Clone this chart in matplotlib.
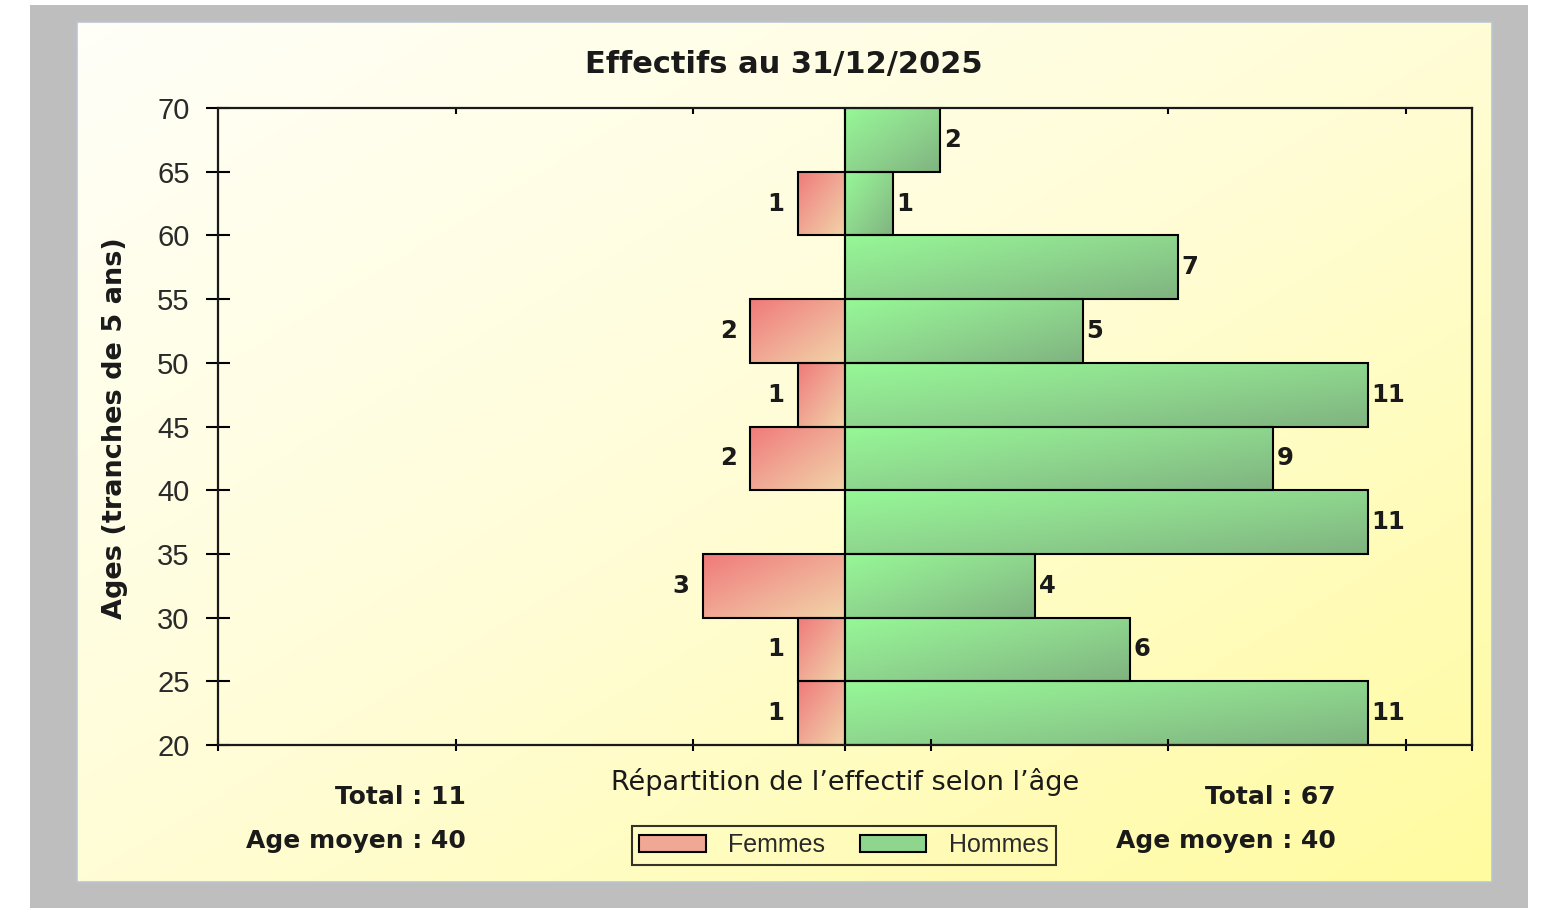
import matplotlib
matplotlib.use('Agg')

import numpy as np
import matplotlib.pyplot as plt
from matplotlib.patches import Rectangle, Patch
from matplotlib.colors import LinearSegmentedColormap

# tranches d'age (borne basse) et effectifs
ages = [20, 25, 30, 35, 40, 45, 50, 55, 60, 65]
femmes = [1, 1, 3, 0, 2, 1, 2, 0, 1, 0]
hommes = [11, 6, 4, 11, 9, 11, 5, 7, 1, 2]
yticks = [20, 25, 30, 35, 40, 45, 50, 55, 60, 65, 70]
xticks = [-13.2, -8.2, -3.2, 0, 1.8, 6.8, 11.8, 13.2]

titre = "Effectifs au 31/12/2025"
xlabel = "Répartition de l\u2019effectif selon l\u2019âge"
ylabel = "Ages (tranches de 5 ans)"
total_f, moyen_f = 11, 40
total_h, moyen_h = 67, 40

W, H = 1545, 908
fig = plt.figure(figsize=(W / 100, H / 100), dpi=100)
fig.patch.set_facecolor('white')

# fond : cadre gris + panneau degrade (coordonnees pixel)
bg = fig.add_axes([0, 0, 1, 1], zorder=-1)
bg.axis('off')
bg.add_patch(Rectangle((30, 5), 1498, 910, facecolor='#BEBEBE', edgecolor='none', zorder=0))
n = 200
grad = np.add.outer(np.linspace(0, 1, n), np.linspace(0, 1, n)) / 2
cm_bg = LinearSegmentedColormap.from_list('bg', ['#FFFFF8', '#FFFDD6', '#FFFBA0'])
bg.imshow(grad, extent=[77, 1492, 882, 22], cmap=cm_bg, aspect='auto',
          interpolation='bilinear', zorder=1)
bg.add_patch(Rectangle((77, 22), 1415, 860, facecolor='none', edgecolor='#B9C6D6',
                       lw=1.2, zorder=2))
bg.set_xlim(0, W)
bg.set_ylim(H, 0)

ax = fig.add_axes([218 / W, 1 - 745 / H, (1472 - 218) / W, (745 - 108) / H])
ax.patch.set_alpha(0)

cm_f = LinearSegmentedColormap.from_list('f', ['#F07A7A', '#F0A894', '#F2D4A8'])
cm_h = LinearSegmentedColormap.from_list('h', ['#96F896', '#8ED68E', '#80B480'])
bgrad = np.add.outer(np.linspace(0, 1, 60), np.linspace(0, 1, 60)) / 2


def gradient_bars(bars, cmap):
    for p in bars:
        w = p.get_width()
        if w == 0:
            continue
        x0 = min(p.get_x(), p.get_x() + w)
        x1 = max(p.get_x(), p.get_x() + w)
        y0, y1 = p.get_y(), p.get_y() + p.get_height()
        im = ax.imshow(bgrad, extent=[x0, x1, y0, y1], cmap=cmap, aspect='auto',
                       interpolation='bilinear', zorder=1)
        im.set_clip_path(p)


bf = ax.barh(ages, [-v for v in femmes], height=5, align='edge',
             facecolor='none', edgecolor='black', lw=1.5, zorder=2)
bh = ax.barh(ages, hommes, height=5, align='edge',
             facecolor='none', edgecolor='black', lw=1.5, zorder=2)
gradient_bars(bf, cm_f)
gradient_bars(bh, cm_h)

ink = '#1a1a1a'
lab = dict(fontsize=17.5, fontweight='bold', color=ink, va='center',
           family='DejaVu Sans')
for a, v in zip(ages, femmes):
    if v:
        ax.text(-v - 0.28, a + 2.5, str(v), ha='right', **lab)
for a, v in zip(ages, hommes):
    if v:
        ax.text(v + 0.08, a + 2.5, str(v), ha='left', **lab)

ax.set_xlim(-13.2, 13.2)
ax.set_ylim(20, 70)
ax.set_yticks(yticks)
ax.set_yticklabels([str(t) for t in yticks], family='Liberation Sans', fontsize=21,
                   color='#2a2a2a')
ax.set_xticks(xticks)
ax.set_xticklabels([])
ax.tick_params(axis='y', direction='inout', length=17, width=1.5, pad=12, right=False)
ax.tick_params(axis='x', direction='inout', length=9, width=1.5)
for s in ax.spines.values():
    s.set_linewidth(1.6)
    s.set_color(ink)

top = ax.secondary_xaxis('top')
top.set_xticks(xticks[1:-1])
top.set_xticklabels([])
top.tick_params(direction='in', length=4.5, width=1.5)
top.spines['top'].set_visible(False)

fig.text(784 / W, 1 - 64 / H, titre, ha='center', va='center', fontsize=22,
         fontweight='bold', family='DejaVu Sans', color=ink)
fig.text(115 / W, 1 - 428 / H, ylabel, rotation=90, ha='center', va='center',
         fontsize=19.5, fontweight='bold', family='DejaVu Sans', color=ink)
fig.text(845 / W, 1 - 782 / H, xlabel, ha='center', va='center', fontsize=19.5,
         family='DejaVu Sans', color=ink)

bt = dict(ha='right', va='center', fontsize=18, fontweight='bold',
          family='DejaVu Sans', color=ink)
fig.text(466 / W, 1 - 797 / H, "Total : %d" % total_f, **bt)
fig.text(466 / W, 1 - 841 / H, "Age moyen : %d" % moyen_f, **bt)
fig.text(1336 / W, 1 - 797 / H, "Total : %d" % total_h, **bt)
fig.text(1336 / W, 1 - 841 / H, "Age moyen : %d" % moyen_h, **bt)

handles = [Patch(facecolor='#F0A894', edgecolor='black', lw=1.5, label='Femmes'),
           Patch(facecolor='#8ED68E', edgecolor='black', lw=1.5, label='Hommes')]
leg = fig.legend(handles=handles, loc='center', bbox_to_anchor=(844 / W, 1 - 845 / H),
                 ncol=2, prop={'family': 'Liberation Sans', 'size': 18},
                 frameon=True, fancybox=False, handlelength=2.65, handleheight=0.65,
                 handletextpad=0.9, columnspacing=1.4, borderpad=0.3, borderaxespad=0)
leg.get_frame().set_edgecolor('black')
leg.get_frame().set_linewidth(1.5)
leg.get_frame().set_facecolor('none')
for t in leg.get_texts():
    t.set_color('#2a2a2a')

fig.savefig('out.png', dpi=100)
